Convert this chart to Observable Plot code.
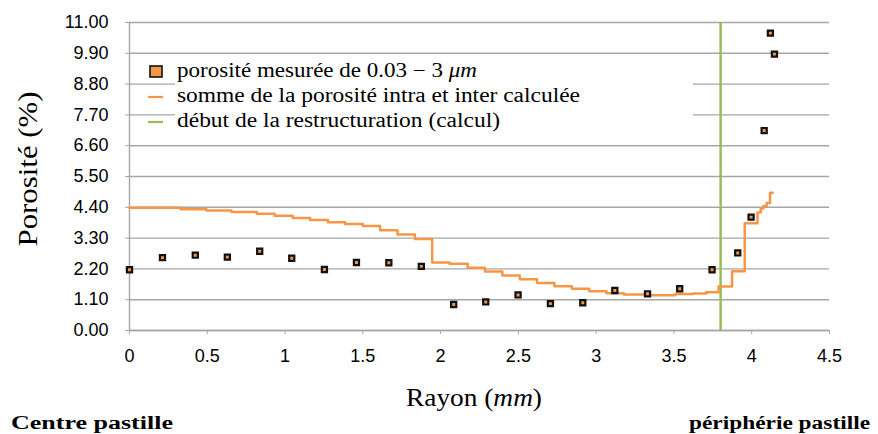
<!DOCTYPE html>
<html><head><meta charset="utf-8">
<script src="https://cdn.jsdelivr.net/npm/d3@7"></script>
<script src="https://cdn.jsdelivr.net/npm/@observablehq/plot@0.6"></script>
<style>body{margin:0;background:#fff;} #chart svg{display:block;}</style>
</head><body><div id="chart"></div>
<script>
// measured porosity (0.03 - 3 µm)
const measX = [0, 0.212, 0.423, 0.629, 0.837, 1.043, 1.253, 1.459, 1.667, 1.876, 2.084, 2.29, 2.498, 2.706, 2.914, 3.12, 3.33, 3.537, 3.745, 3.91, 3.996, 4.08, 4.146, 4.12];
const measY = [2.17, 2.60, 2.69, 2.62, 2.83, 2.58, 2.18, 2.43, 2.42, 2.29, 0.93, 1.02, 1.27, 0.96, 0.99, 1.43, 1.31, 1.49, 2.17, 2.77, 4.05, 7.14, 9.87, 10.62];
// computed intra + inter porosity (step curve)
const stepX = [0, 0.328, 0.494, 0.655, 0.818, 0.933, 1.049, 1.161, 1.275, 1.386, 1.500, 1.611, 1.723, 1.835, 1.946, 2.058, 2.174, 2.285, 2.397, 2.509, 2.620, 2.732, 2.844, 2.955, 3.066, 3.178, 3.322, 3.509, 3.623, 3.708, 3.787, 3.874, 3.955, 4.037, 4.058, 4.075, 4.096, 4.118, 4.135];
const stepY = [4.38, 4.33, 4.29, 4.23, 4.17, 4.10, 4.02, 3.95, 3.87, 3.80, 3.73, 3.58, 3.43, 3.27, 2.43, 2.38, 2.24, 2.11, 1.96, 1.83, 1.70, 1.58, 1.49, 1.40, 1.33, 1.29, 1.26, 1.30, 1.32, 1.37, 1.57, 2.12, 3.83, 4.21, 4.36, 4.45, 4.55, 4.92, 4.92];
// start of restructuring (computed)
const restructX = [3.8];
const yTicks = [0, 1.1, 2.2, 3.3, 4.4, 5.5, 6.6, 7.7, 8.8, 9.9, 11];
const xTicks = [0, 0.5, 1, 1.5, 2, 2.5, 3, 3.5, 4, 4.5];
const legendLabels = ["porosité mesurée de 0.03 − 3 ", "somme de la porosité intra et inter calculée", "début de la restructuration (calcul)"];
const xTitle = ["Rayon (", "mm", ")"];
const yTitle = "Porosité (%)";
const footLeft = "Centre pastille";
const footRight = "périphérie pastille";

const ORANGE = "#f79646", GREEN = "#9bbb59", GRID = "#a6a6a6";
const meas = measX.map((x, i) => ({x, y: measY[i]}));
const steps = stepX.map((x, i) => ({x, y: stepY[i]}));

const plot = Plot.plot({
  width: 878, height: 434,
  marginLeft: 129, marginRight: 49, marginTop: 22, marginBottom: 104,
  style: {fontFamily: "'Liberation Sans', Arial, sans-serif", fontSize: "17px", color: "#000", background: "#fff"},
  x: {domain: [0, 4.5], label: null},
  y: {domain: [0, 11], label: null},
  marks: [
    Plot.gridY(yTicks, {stroke: GRID, strokeOpacity: 1, strokeWidth: 1.4}),
    Plot.axisY(yTicks, {tickSize: 4, tickPadding: 17, stroke: GRID, strokeOpacity: 1, fill: "#000", tickFormat: d => d.toFixed(2), label: null, fontSize: 18}),
    Plot.axisX(xTicks, {tickSize: 4, tickPadding: 15, stroke: GRID, strokeOpacity: 1, fill: "#000", tickFormat: d => String(d), label: null, fontSize: 18}),
    Plot.ruleX([0], {stroke: GRID, strokeWidth: 1.4}),
    Plot.ruleY([0], {stroke: GRID, strokeWidth: 1.4}),
    Plot.ruleX(restructX, {stroke: GREEN, strokeWidth: 2.5}),
    Plot.line(steps, {x: "x", y: "y", curve: "step-after", stroke: ORANGE, strokeWidth: 2.5}),
    Plot.dot(meas, {x: "x", y: "y", symbol: "square", r: 2.9, fill: ORANGE, stroke: "#111", strokeWidth: 2.2})
  ]
});
document.getElementById("chart").appendChild(plot);

const svg = d3.select(plot);
const serif = "'Liberation Serif', 'Times New Roman', serif";
function fit(sel, w) { sel.attr("textLength", w).attr("lengthAdjust", "spacingAndGlyphs"); return sel; }

// legend
const lg = svg.append("g").attr("text-anchor", "start").attr("font-family", serif).attr("font-size", 20).attr("fill", "#000");
lg.append("rect").attr("x", 175).attr("y", 56).attr("width", 518).attr("height", 82).attr("fill", "#fff");
lg.append("rect").attr("x", 150).attr("y", 66).attr("width", 12).attr("height", 11).attr("fill", ORANGE).attr("stroke", "#111").attr("stroke-width", 1.6);
lg.append("line").attr("x1", 148).attr("x2", 163).attr("y1", 97).attr("y2", 97).attr("stroke", ORANGE).attr("stroke-width", 2.2);
lg.append("line").attr("x1", 148).attr("x2", 163).attr("y1", 122).attr("y2", 122).attr("stroke", GREEN).attr("stroke-width", 2.2);
const t1 = lg.append("text").attr("x", 177).attr("y", 77);
t1.append("tspan").text(legendLabels[0]);
t1.append("tspan").attr("font-style", "italic").text("μm");
fit(t1, 300);
fit(lg.append("text").attr("x", 177).attr("y", 102).text(legendLabels[1]), 403);
fit(lg.append("text").attr("x", 177).attr("y", 127).text(legendLabels[2]), 323);

// axis titles
const xt = svg.append("text").attr("x", 474).attr("y", 406).attr("text-anchor", "middle").attr("font-family", serif).attr("font-size", 25);
xt.append("tspan").text(xTitle[0]);
xt.append("tspan").attr("font-style", "italic").text(xTitle[1]);
xt.append("tspan").text(xTitle[2]);
fit(xt, 136);
fit(svg.append("text").attr("transform", "translate(37,169) rotate(-90)").attr("text-anchor", "middle").attr("font-family", serif).attr("font-size", 27).text(yTitle), 155);

// footer labels
fit(svg.append("text").attr("x", 11).attr("y", 429).attr("text-anchor", "start").attr("font-family", serif).attr("font-weight", "bold").attr("font-size", 18).text(footLeft), 162);
fit(svg.append("text").attr("x", 870).attr("y", 429).attr("text-anchor", "end").attr("font-family", serif).attr("font-weight", "bold").attr("font-size", 18).text(footRight), 181);
</script>
</body></html>
